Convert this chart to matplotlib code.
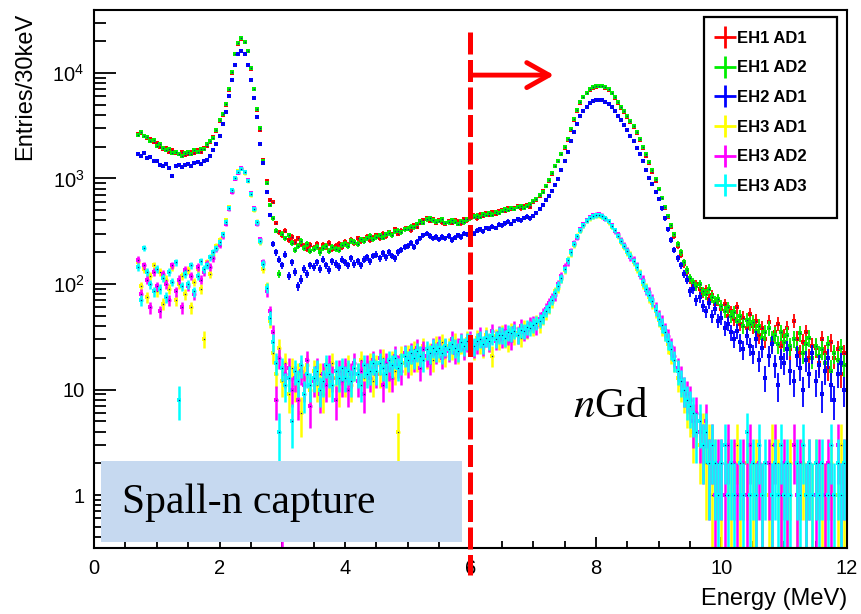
"""
Spallation-neutron capture energy spectra for the six antineutrino detectors,
drawn ROOT-style on a log scale with Poisson error bars.
"""

import numpy as np
import matplotlib.pyplot as plt
from matplotlib.lines import Line2D
from matplotlib.patches import Rectangle
from matplotlib.ticker import FixedLocator, FuncFormatter, LogLocator, NullFormatter, MultipleLocator

# bin centres, 0.70 ... 11.95 MeV in 50 keV steps
ENERGY = np.round(0.70 + 0.05 * np.arange(226), 2)
BIN_HALF = 0.025

LABELS = ["EH1 AD1", "EH1 AD2", "EH2 AD1", "EH3 AD1", "EH3 AD2", "EH3 AD3"]
COLORS = ["#ff0000", "#00ee00", "#0000ff", "#ffff00", "#ff00ff", "#00ffff"]

EH1_AD1 = [
    2650, 2700, 2550, 2400, 2350, 2200,
    2150, 2000, 1900, 1950, 1800, 1850, 1750, 1700, 1780, 1680,
    1720, 1800, 1750, 1850, 1800, 1950, 2050, 2200, 2450, 2800,
    3500, 4000, 5000, 6900, 10000, 15000, 19000, 21000, 19500, 16000,
    11000, 7000, 4500, 2900, 1500, 950, 620, 600, 380, 310,
    290, 320, 260, 280, 250, 270, 240, 230, 215, 235,
    220, 240, 210, 235, 225, 245, 215, 230, 240, 225,
    250, 235, 260, 245, 270, 255, 265, 280, 260, 275,
    290, 270, 300, 285, 310, 295, 330, 300, 320, 335,
    340, 325, 360, 350, 380, 400, 420, 395, 415, 380,
    400, 385, 370, 395, 380, 405, 390, 375, 410, 400,
    430, 445, 420, 455, 440, 470, 450, 480, 465, 490,
    505, 490, 520, 510, 530, 545, 520, 550, 560, 540,
    600, 630, 680, 760, 850, 950, 1100, 1300, 1450, 1700,
    1950, 2300, 2900, 3600, 4400, 5200, 5900, 6400, 6900, 7200,
    7400, 7500, 7450, 7250, 6900, 6400, 5800, 5200, 4700, 4300,
    3850, 3450, 3100, 2700, 2300, 1950, 1650, 1400, 1150, 950,
    790, 650, 530, 430, 350, 285, 230, 190, 155, 130,
    110, 98, 100, 90, 82, 88, 72, 78, 65, 70,
    58, 64, 50, 55, 47, 60, 42, 48, 38, 52,
    40, 45, 33, 38, 30, 44, 28, 35, 42, 26,
    32, 38, 24, 45, 30, 22, 28, 35, 20, 26,
    25, 18, 30, 22, 16, 28, 20, 24, 14, 22,
]

EH1_AD2 = [
    2600, 2750, 2500, 2450, 2250, 2300,
    2050, 2100, 1950, 1850, 1900, 1750, 1800, 1720, 1650, 1750,
    1780, 1700, 1850, 1800, 1900, 1900, 2100, 2250, 2400, 2850,
    3600, 4100, 5100, 7000, 10200, 15200, 19300, 21300, 19800, 16200,
    11200, 7100, 4600, 3000, 1450, 900, 560, 420, 320, 125,
    300, 270, 290, 245, 210, 230, 255, 220, 240, 205,
    215, 225, 200, 220, 230, 205, 225, 215, 210, 235,
    240, 230, 255, 250, 240, 265, 255, 270, 285, 265,
    280, 290, 275, 295, 305, 290, 315, 320, 310, 330,
    335, 350, 345, 370, 395, 380, 410, 420, 400, 390,
    395, 410, 380, 385, 400, 390, 370, 395, 385, 410,
    420, 435, 445, 430, 460, 450, 470, 455, 485, 475,
    495, 510, 500, 525, 515, 535, 550, 530, 545, 575,
    610, 640, 690, 740, 840, 970, 1130, 1320, 1480, 1720,
    2000, 2350, 2950, 3650, 4450, 5250, 5950, 6500, 7000, 7350,
    7500, 7600, 7550, 7350, 7000, 6500, 5900, 5300, 4800, 4350,
    3900, 3500, 3150, 2750, 2350, 2000, 1700, 1420, 1200, 980,
    800, 660, 540, 440, 360, 295, 240, 200, 160, 135,
    115, 105, 95, 100, 85, 80, 90, 75, 68, 72,
    62, 55, 60, 50, 54, 45, 50, 40, 46, 42,
    44, 36, 40, 31, 35, 38, 30, 33, 27, 35,
    28, 33, 26, 30, 24, 34, 22, 27, 31, 20,
    26, 21, 24, 18, 27, 15, 22, 19, 25, 17,
]

EH2_AD1 = [
    1700, 1650, 1750, 1550, 1600, 1450,
    1450, 1350, 1300, 1380, 1250, 1050, 1300, 1330, 1280, 1350,
    1380, 1320, 1400, 1420, 1380, 1450, 1500, 1650, 1850, 2100,
    2500, 3300, 4300, 6000, 8500, 12000, 15000, 16000, 15000, 12000,
    8500, 5800, 3800, 2100, 1400, 750, 450, 240, 200, 170,
    150, 190, 120, 160, 130, 95, 110, 140, 125, 150,
    145, 160, 140, 170, 150, 135, 165, 155, 145, 170,
    160, 150, 175, 155, 165, 150, 170, 180, 165, 185,
    190, 175, 195, 180, 200, 185, 175, 200, 210, 225,
    230, 245, 225, 250, 270, 290, 300, 285, 270, 280,
    265, 280, 270, 285, 260, 275, 290, 280, 300, 295,
    310, 300, 320, 330, 315, 340, 335, 350, 340, 365,
    360, 375, 390, 370, 395, 410, 400, 425, 435, 420,
    440, 470, 510, 560, 620, 680, 760, 870, 980, 1200,
    1450, 1800, 2250, 2750, 3300, 3900, 4400, 4800, 5150, 5400,
    5500, 5550, 5500, 5350, 5100, 4750, 4350, 3950, 3550, 3200,
    2850, 2550, 2250, 1950, 1700, 1450, 1200, 1020, 880, 740,
    640, 520, 420, 330, 260, 210, 175, 150, 125, 110,
    85, 90, 70, 75, 62, 55, 66, 50, 58, 45,
    48, 38, 42, 35, 30, 36, 28, 24, 32, 26,
    22, 30, 19, 25, 13, 21, 27, 17, 11, 20,
    18, 24, 15, 12, 21, 16, 10, 19, 14, 22,
    12, 17, 9, 15, 20, 11, 8, 14, 18, 10,
]

EH3_AD1 = [
    160, 95, 140, 75, 120, 150,
    85, 130, 65, 110, 90, 145, 70, 100, 120, 80,
    135, 60, 105, 140, 90, 30, 160, 125, 190, 230,
    260, 300, 400, 540, 760, 1000, 1180, 1230, 1120, 940,
    700, 500, 390, 250, 140, 95, 45, 22, 14, 25,
    12, 18, 9, 16, 11, 14, 6, 13, 17, 10,
    15, 11, 14, 9, 16, 12, 18, 13, 10, 15,
    12, 17, 11, 16, 14, 19, 13, 15, 18, 12,
    17, 14, 20, 16, 13, 19, 15, 4, 21, 18,
    22, 18, 24, 19, 21, 26, 20, 23, 19, 27,
    23, 28, 21, 26, 24, 29, 22, 27, 25, 30,
    26, 24, 31, 27, 25, 33, 28, 21, 32, 29,
    35, 30, 28, 37, 32, 34, 31, 39, 36, 41,
    38, 44, 41, 48, 53, 60, 68, 85, 92, 112,
    135, 170, 195, 235, 285, 320, 360, 395, 420, 435,
    445, 440, 430, 425, 385, 350, 325, 285, 250, 225,
    200, 190, 160, 140, 128, 100, 92, 75, 66, 55,
    46, 38, 35, 27, 22, 19, 13, 11, 9, 7,
    6, 4, 5, 3, 4, 2, 3, 1, 2, 0,
    1, 0, 2, 1, 0, 3, 1, 0, 2, 0,
    1, 2, 0, 1, 0, 1, 3, 0, 2, 1,
    0, 1, 2, 0, 1, 0, 2, 1, 0, 1,
    2, 0, 1, 1, 0, 2, 0, 1, 3, 1,
]

EH3_AD2 = [
    170, 80, 150, 110, 60, 130,
    95, 55, 125, 100, 70, 150, 85, 110, 60, 135,
    95, 120, 80, 145, 110, 130, 155, 145, 175, 215,
    235, 285, 370, 510, 740, 990, 1130, 1260, 1160, 960,
    730, 530, 370, 265, 160, 85, 55, 35, 8, 20,
    1, 14, 16, 10, 13, 8, 15, 11, 19, 7,
    12, 16, 9, 14, 11, 17, 13, 8, 15, 12,
    16, 10, 14, 18, 12, 15, 9, 17, 13, 19,
    14, 20, 11, 18, 16, 13, 21, 17, 15, 22,
    17, 23, 19, 25, 16, 24, 21, 18, 26, 22,
    27, 20, 25, 23, 30, 22, 26, 29, 24, 28,
    30, 25, 27, 33, 26, 31, 28, 36, 29, 34,
    30, 36, 32, 29, 38, 33, 40, 35, 37, 42,
    43, 39, 47, 52, 58, 66, 74, 78, 99, 118,
    145, 160, 205, 245, 275, 330, 370, 405, 430, 450,
    455, 460, 445, 415, 395, 360, 315, 295, 260, 235,
    210, 180, 170, 150, 122, 110, 88, 84, 72, 60,
    50, 44, 37, 32, 26, 21, 16, 13, 10, 9,
    8, 5, 6, 4, 3, 5, 2, 3, 1, 2,
    2, 1, 3, 0, 2, 1, 0, 2, 1, 3,
    0, 1, 2, 1, 0, 2, 1, 3, 0, 1,
    2, 1, 0, 3, 1, 2, 0, 1, 2, 0,
    1, 2, 0, 1, 2, 1, 0, 3, 1, 2,
]

EH3_AD3 = [
    145, 70, 220, 130, 100, 85,
    140, 90, 115, 75, 130, 105, 160, 8, 95, 125,
    100, 150, 85, 120, 165, 140, 150, 180, 200, 220,
    250, 295, 390, 530, 770, 1010, 1160, 1240, 1140, 950,
    710, 510, 385, 255, 155, 92, 48, 28, 18, 4,
    16, 11, 13, 5, 15, 12, 17, 9, 14, 11,
    13, 15, 10, 12, 17, 14, 11, 15, 13, 16,
    13, 15, 12, 16, 14, 11, 17, 14, 15, 18,
    15, 18, 16, 14, 19, 17, 20, 16, 18, 21,
    19, 22, 20, 23, 21, 19, 24, 22, 25, 23,
    25, 22, 26, 24, 27, 25, 23, 28, 26, 29,
    28, 26, 29, 30, 27, 31, 29, 32, 30, 33,
    33, 31, 35, 34, 36, 33, 37, 36, 39, 38,
    41, 43, 45, 49, 56, 61, 71, 82, 96, 113,
    138, 168, 200, 238, 282, 325, 362, 398, 422, 438,
    448, 452, 438, 418, 392, 352, 322, 288, 256, 228,
    204, 186, 164, 146, 124, 104, 90, 78, 69, 57,
    47, 41, 35, 29, 24, 19, 15, 12, 10, 8,
    7, 6, 4, 5, 3, 4, 2, 3, 2, 1,
    2, 3, 1, 2, 1, 0, 2, 1, 4, 1,
    2, 1, 3, 1, 2, 0, 1, 2, 1, 3,
    1, 2, 1, 0, 2, 1, 3, 1, 2, 1,
    2, 1, 2, 0, 1, 3, 1, 2, 1, 2,
]

SERIES = [EH1_AD1, EH1_AD2, EH2_AD1, EH3_AD1, EH3_AD2, EH3_AD3]

plt.rcParams["font.family"] = ["Liberation Sans", "DejaVu Sans"]


def draw_series(ax, counts, color, lw):
    """Points with Poisson error bars; empty bins are skipped."""
    y = np.asarray(counts, dtype=float)
    keep = y > 0
    x, y = ENERGY[keep], y[keep]
    err = np.sqrt(y)
    low = y - np.maximum(y - err, 0.05)
    ax.errorbar(x, y, yerr=[low, err], xerr=BIN_HALF, fmt="none",
                ecolor=color, elinewidth=lw, capsize=0)
    ax.plot(x, y, "s", ms=2.4, mew=0, color=color)
    ax.plot(x, y, "s", ms=0.9, mew=0, color="#1c1c8c")


def log_label(v, pos):
    if v < 5:
        return "1"
    if v < 50:
        return "10"
    return r"$\mathdefault{10^{%d}}$" % round(np.log10(v))


def plot_spectra():
    fig = plt.figure(figsize=(8.61, 6.14), dpi=100)
    ax = fig.add_axes([0.1092, 0.1075, 0.8745, 0.8762])

    for i, (counts, color) in enumerate(zip(SERIES, COLORS)):
        draw_series(ax, counts, color, 1.3 if i < 3 else 1.8)

    ax.set_xlim(0, 12)
    ax.set_yscale("log")
    ax.set_ylim(0.315, 39500)

    ax.xaxis.set_major_locator(MultipleLocator(2))
    ax.xaxis.set_minor_locator(MultipleLocator(0.5))
    ax.yaxis.set_major_locator(FixedLocator([1, 10, 100, 1000, 10000]))
    ax.yaxis.set_major_formatter(FuncFormatter(log_label))
    ax.yaxis.set_minor_locator(LogLocator(base=10, subs=np.arange(2, 10)))
    ax.yaxis.set_minor_formatter(NullFormatter())

    ax.tick_params(axis="both", which="both", direction="in", top=False,
                   right=False, width=1.3, labelsize=14.5, color="black")
    ax.tick_params(axis="x", which="major", length=8, pad=8)
    ax.tick_params(axis="x", which="minor", length=5)
    ax.tick_params(axis="y", which="major", length=16, pad=7)
    ax.tick_params(axis="y", which="minor", length=8.5)
    for spine in ax.spines.values():
        spine.set_linewidth(1.5)

    ax.set_xlabel("Energy (MeV)", fontsize=17, ha="right")
    ax.xaxis.set_label_coords(1.0, -0.075)
    ax.set_ylabel("Entries/30keV", fontsize=17, ha="right")
    ax.yaxis.set_label_coords(-0.077, 0.995)

    # legend frame and entries
    ax.add_patch(Rectangle((0.810, 0.613), 0.177, 0.374, transform=ax.transAxes,
                           facecolor="white", edgecolor="black", lw=1.6, zorder=8))
    handles = [Line2D([], [], color=c, marker="+", ms=16, mew=2, ls="none")
               for c in COLORS]
    ax.legend(handles, LABELS, loc="upper left", bbox_to_anchor=(0.812, 0.983),
              frameon=False, handlelength=1.0, handletextpad=0.2,
              labelspacing=0.88, borderpad=0.2,
              prop={"family": "Liberation Sans", "weight": "bold", "size": 12}
              ).set_zorder(9)

    # 6 MeV cut and arrow
    xt = ax.get_xaxis_transform()
    ax.plot([6, 6], [0.959, -0.05], transform=xt, clip_on=False, color="#ff0000",
            lw=3.6, dashes=(4.4, 1.1), solid_capstyle="butt", zorder=10)
    ax.annotate("", xy=(7.33, 0.879), xytext=(6.02, 0.879), xycoords=xt,
                textcoords=xt, zorder=10,
                arrowprops=dict(arrowstyle="->,head_length=0.8,head_width=0.45",
                                mutation_scale=20, color="#ff0000", lw=3.5,
                                shrinkA=0, shrinkB=0))

    # annotations
    ax.add_patch(Rectangle((0.0093, 0.011), 0.479, 0.1506, transform=ax.transAxes,
                           facecolor="#c6d9f0", edgecolor="none", zorder=7))
    ax.text(0.037, 0.065, "Spall-n capture", transform=ax.transAxes, fontsize=30,
            family="Liberation Serif", va="baseline", zorder=8)
    ax.text(0.636, 0.2435, r"$\mathit{n}$Gd", transform=ax.transAxes, fontsize=31,
            family="Liberation Serif", math_fontfamily="stix", va="baseline",
            zorder=8)

    fig.savefig("out.png", dpi=100)


if __name__ == "__main__":
    for s in SERIES:
        assert len(s) == len(ENERGY)
    plot_spectra()
